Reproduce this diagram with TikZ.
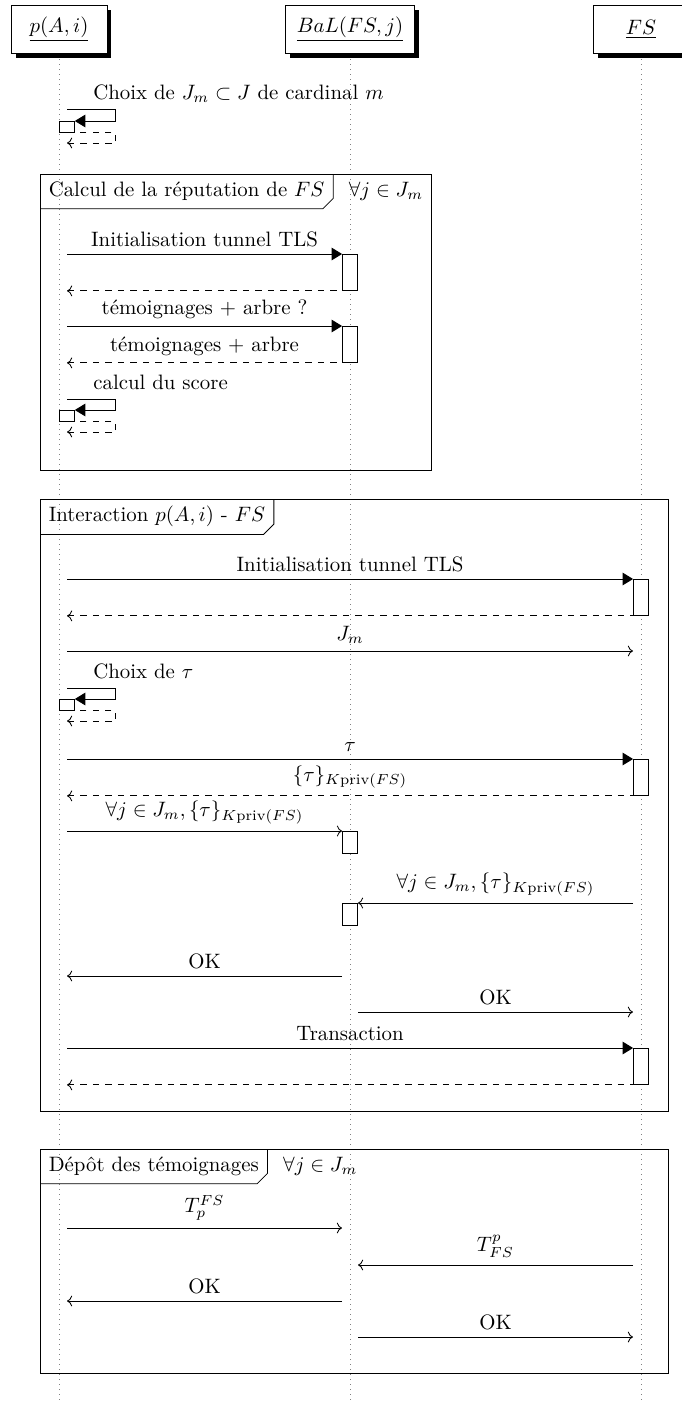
\documentclass[tikz,border=0pt]{standalone}
\usepackage{fontspec}
\usepackage{amsmath,amssymb}
\usetikzlibrary{arrows.meta,positioning,calc,shadows}

\begin{document}
\begin{tikzpicture}[x=0.48pt,y=-0.48pt,>=To,
  inst/.style={draw,fill=white,minimum width=46pt,minimum height=23pt,inner xsep=5.5pt,drop shadow={fill=black,opacity=1}},
  life/.style={dotted,gray},
  act/.style={draw,fill=white,inner sep=0pt,minimum width=7.2pt,minimum height=17.3pt,anchor=north},
  shortact/.style={act,minimum height=10.6pt},
  selfact/.style={draw,fill=white,inner sep=0pt,minimum width=7.2pt,minimum height=5.3pt,anchor=north west},
  call/.style={-{Triangle[length=5pt,width=6pt]}},
  mess/.style={->},
  ret/.style={<-,dashed},
  frametab/.style={anchor=north west,inner xsep=4pt,minimum height=16.3pt}]
  \useasboundingbox (0,0) rectangle (681,1403);

  % instances and lifelines
  \node[inst] (pA) at (59,29.5) {\underline{$p(A,i)$}};
  \node[inst] (BaL) at (350,29.5) {\underline{$BaL(FS,j)$}};
  \node[inst] (FS) at (641,29.5) {\underline{$FS$}};
  \foreach \n in {pA,BaL,FS}
    \draw[life] ([yshift=-2.5pt]\n.south) -- (\n |- 0,1410);

  % choix de J_m
  \node[anchor=base west] (choixJ) at (86,99) {Choix de $J_m \subset J$ de cardinal $m$};
  \node[selfact] (selfJ) at (pA |- 0,121) {};
  \draw[call] ($(pA |- 0,109)+(8,0)$) -| ($(selfJ.north east)+(41,0)$) -- (selfJ.north east);
  \draw[ret] ($(pA |- 0,143)+(8,0)$) -| ($(selfJ.south east)+(41,0)$) -- (selfJ.south east);

  % calcul de la reputation
  \draw (40,174) rectangle (431,470);
  \node[frametab] (tabCalc) at (40,174) {Calcul de la réputation de $FS$};
  \draw (tabCalc.north east) -- ([yshift=5pt]tabCalc.south east) -- ([xshift=-5pt]tabCalc.south east) -- (tabCalc.south west);
  \node[right=4pt of tabCalc] (forallCalc) {$\forall j \in J_m$};

  \node[act] (actTLSa) at (BaL |- 0,254) {};
  \draw[call] ($(pA |- actTLSa.north)+(8,0)$) -- (actTLSa.north west) node[midway,above] {Initialisation tunnel TLS};
  \draw[ret] ($(pA |- actTLSa.south)+(8,0)$) -- (actTLSa.south west);
  \node[act] (actTem) at (BaL |- 0,326) {};
  \draw[call] ($(pA |- actTem.north)+(8,0)$) -- (actTem.north west) node[midway,above] {témoignages + arbre ?};
  \draw[ret] ($(pA |- actTem.south)+(8,0)$) -- (actTem.south west) node[midway,above] {témoignages + arbre};

  \node[anchor=base west] (calcScore) at (86,389) {calcul du score};
  \node[selfact] (selfScore) at (pA |- 0,410) {};
  \draw[call] ($(pA |- 0,399)+(8,0)$) -| ($(selfScore.north east)+(41,0)$) -- (selfScore.north east);
  \draw[ret] ($(pA |- 0,432)+(8,0)$) -| ($(selfScore.south east)+(41,0)$) -- (selfScore.south east);

  % interaction
  \draw (40,499) rectangle (668,1111);
  \node[frametab] (tabInter) at (40,499) {Interaction $p(A,i)$ - $FS$};
  \draw (tabInter.north east) -- ([yshift=5pt]tabInter.south east) -- ([xshift=-5pt]tabInter.south east) -- (tabInter.south west);

  \node[act] (actTLSb) at (FS |- 0,579) {};
  \draw[call] ($(pA |- actTLSb.north)+(8,0)$) -- (actTLSb.north west) node[midway,above] {Initialisation tunnel TLS};
  \draw[ret] ($(pA |- actTLSb.south)+(8,0)$) -- (actTLSb.south west);
  \draw[mess] ($(pA |- 0,651)+(8,0)$) -- ($(FS |- 0,651)+(-8,0)$) node[midway,above] {$J_m$};

  \node[anchor=base west] (choixTau) at (86,678) {Choix de $\tau$};
  \node[selfact] (selfTau) at (pA |- 0,699) {};
  \draw[call] ($(pA |- 0,688)+(8,0)$) -| ($(selfTau.north east)+(41,0)$) -- (selfTau.north east);
  \draw[ret] ($(pA |- 0,721)+(8,0)$) -| ($(selfTau.south east)+(41,0)$) -- (selfTau.south east);

  \node[act] (actTau) at (FS |- 0,759) {};
  \draw[call] ($(pA |- actTau.north)+(8,0)$) -- (actTau.north west) node[midway,above] {$\tau$};
  \draw[ret] ($(pA |- actTau.south)+(8,0)$) -- (actTau.south west) node[midway,above] {$\{\tau\}_{K\mathrm{priv}(FS)}$};
  \node[shortact] (actSigA) at (BaL |- 0,831) {};
  \draw[mess] ($(pA |- actSigA.north)+(8,0)$) -- (actSigA.north west) node[midway,above] {$\forall j \in J_m, \{\tau\}_{K\mathrm{priv}(FS)}$};
  \node[shortact] (actSigB) at (BaL |- 0,903) {};
  \draw[mess] ($(FS |- actSigB.north)+(-8,0)$) -- (actSigB.north east) node[midway,above] {$\forall j \in J_m, \{\tau\}_{K\mathrm{priv}(FS)}$};
  \draw[mess] ($(BaL |- 0,976)+(-8,0)$) -- ($(pA |- 0,976)+(8,0)$) node[midway,above] {OK};
  \draw[mess] ($(BaL |- 0,1012)+(8,0)$) -- ($(FS |- 0,1012)+(-8,0)$) node[midway,above] {OK};
  \node[act] (actTrans) at (FS |- 0,1048) {};
  \draw[call] ($(pA |- actTrans.north)+(8,0)$) -- (actTrans.north west) node[midway,above] {Transaction};
  \draw[ret] ($(pA |- actTrans.south)+(8,0)$) -- (actTrans.south west);

  % depot des temoignages
  \draw (40,1149) rectangle (668,1373);
  \node[frametab] (tabDepot) at (40,1149) {Dépôt des témoignages};
  \draw (tabDepot.north east) -- ([yshift=5pt]tabDepot.south east) -- ([xshift=-5pt]tabDepot.south east) -- (tabDepot.south west);
  \node[right=4pt of tabDepot] (forallDepot) {$\forall j \in J_m$};

  \draw[mess] ($(pA |- 0,1228)+(8,0)$) -- ($(BaL |- 0,1228)+(-8,0)$) node[midway,above] {$T_p^{FS}$};
  \draw[mess] ($(FS |- 0,1265)+(-8,0)$) -- ($(BaL |- 0,1265)+(8,0)$) node[midway,above] {$T_{FS}^p$};
  \draw[mess] ($(BaL |- 0,1301)+(-8,0)$) -- ($(pA |- 0,1301)+(8,0)$) node[midway,above] {OK};
  \draw[mess] ($(BaL |- 0,1337)+(8,0)$) -- ($(FS |- 0,1337)+(-8,0)$) node[midway,above] {OK};
\end{tikzpicture}
\end{document}
